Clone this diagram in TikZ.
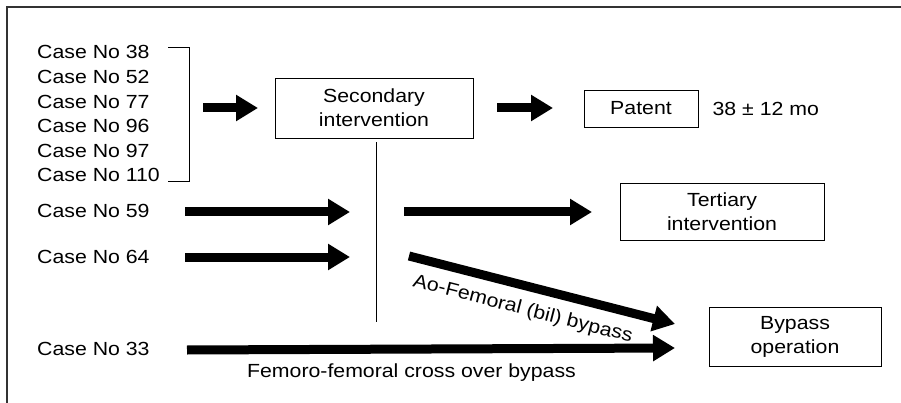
\documentclass[tikz,border=0pt]{standalone}
\usepackage{fontspec}
\setmainfont{Liberation Sans}[FakeStretch=1.12]
\usepackage{tikz}
\usetikzlibrary{arrows.meta, positioning, calc}
\definecolor{FrameGray}{HTML}{333333}

\begin{document}
\begin{tikzpicture}[x=1pt, y=1pt,
    every node/.style={font=\fontsize{19}{24}\selectfont, text=black},
    casetext/.style={anchor=base west, inner sep=0pt},
    box/.style={draw, line width=0.9pt, align=center, inner sep=0pt},
    fat/.style={line width=9pt, -{Triangle[length=22pt, width=25pt]}},
    thin/.style={line width=0.8pt}]
\useasboundingbox (0,0) rectangle (901,-403);
\draw[FrameGray, line width=1.4pt] (7,-403) -- (7,-7) -- (901,-7);

% cases that had a secondary intervention
\foreach \num [count=\i from 0] in {38,52,77,96,97,110}
  \node[casetext] (c\num) at (37,{-59-24.6*\i}) {Case No \num};
\node[casetext] (c59) at (37,-218) {Case No 59};
\node[casetext] (c64) at (37,-263) {Case No 64};
\node[casetext] (c33) at (37,-355) {Case No 33};

% boxes
\node[box, minimum width=198pt, minimum height=60pt] (sec) at (374,-108) {Secondary\\intervention};
\node[box, minimum width=114pt, minimum height=37pt] (pat) at (641,-108.5) {Patent};
\node[anchor=west, inner sep=0pt] (mo) at ([xshift=14pt]pat.east) {38 ± 12 mo};
\node[box, minimum width=204pt, minimum height=57pt] (ter) at (722,-211.5) {Tertiary\\intervention};
\node[box, minimum width=172pt, minimum height=59pt] (byp) at (795,-336.5) {Bypass\\operation};

% bracket and split line
\draw[thin] (168,-47.5) -- (189,-47.5) -- (189,-181) -- (168,-181);
\coordinate (splitend) at (376,-322);
\draw[thin] ([xshift=2pt, yshift=-4pt]sec.south) -- (splitend);

% arrows
\coordinate (a1s) at (203,-108);  \coordinate (a1e) at (258,-108);
\coordinate (a2s) at (497,-108);  \coordinate (a2e) at (553,-108);
\coordinate (s59) at (185,-212);  \coordinate (e59) at (350,-212);
\coordinate (s64) at (185,-257);  \coordinate (e64) at (350,-257);
\coordinate (ts)  at (404,-212);  \coordinate (te)  at (592,-212);
\coordinate (aos) at (409,-256);  \coordinate (aoe) at (675,-324);
\coordinate (s33) at (187,-350);  \coordinate (e33) at (675,-348);
\draw[fat] (a1s) -- (a1e);
\draw[fat] (a2s) -- (a2e);
\draw[fat] (s59) -- (e59);
\draw[fat] (s64) -- (e64);
\draw[fat] (ts) -- (te);
\draw[fat] (aos) -- node[sloped, below=7pt, pos=0.45] (aolbl) {Ao-Femoral (bil) bypass} (aoe);
\draw[fat] (s33) -- node[below=7pt, pos=0.46] (fflbl) {Femoro-femoral cross over bypass} (e33);
\end{tikzpicture}
\end{document}
